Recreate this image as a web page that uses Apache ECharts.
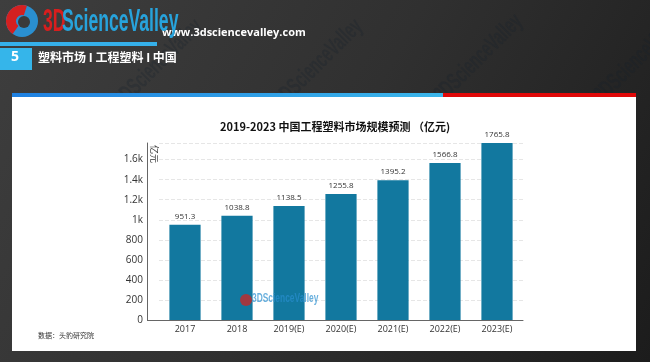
<!DOCTYPE html>
<html><head><meta charset="utf-8">
<script src="https://cdn.jsdelivr.net/npm/echarts@6/dist/echarts.min.js"></script>
<style>html,body{margin:0;padding:0;background:#2e2e2e;}#c{width:650px;height:362px;}</style>
</head><body><div id="c"></div>
<script>
var categories = ['2017','2018','2019(E)','2020(E)','2021(E)','2022(E)','2023(E)'];
var values = [951.3, 1038.8, 1138.5, 1255.8, 1395.2, 1566.8, 1765.8];
var yTicks = [0,200,400,600,800,1000,1200,1400,1600];
var titleText = '2019-2023 中国工程塑料市场规模预测 （亿元)';
var unitName = '亿元';
var sourceText = '数据：头豹研究院';
var sectionText = '塑料市场 I 工程塑料 I 中国';
var siteText = 'www.3dsciencevalley.com';

var chart = echarts.init(document.getElementById('c'));
var wm = [];
[[110,95],[270,95],[430,90],[590,90]].forEach(function(p){
  wm.push({type:'text', x:p[0], y:p[1], rotation:Math.PI/4, scaleX:0.6, z:-20,
    style:{text:'3DScienceValley', fill:'rgba(20,30,45,0.25)', font:'bold 24px sans-serif'}});
});
chart.setOption({
  backgroundColor: {type:'linear', x:0, y:0, x2:1, y2:1, colorStops:[{offset:0,color:'#3e3e3e'},{offset:0.5,color:'#303030'},{offset:1,color:'#1c1c1c'}]},
  title: {text: titleText, left: 330, top: 116, textAlign:'center',
    textStyle:{fontSize:11, fontWeight:'bold', color:'#111', fontFamily:'"Noto Sans CJK SC", sans-serif'}},
  grid: {left:159, right:127, top:143, bottom:42},
  xAxis: {type:'category', data:categories,
    axisLine:{lineStyle:{color:'#666'}}, axisTick:{alignWithLabel:true, lineStyle:{color:'#666'}},
    axisLabel:{color:'#333', fontSize:9, fontFamily:'"Open Sans", sans-serif', margin:5}},
  yAxis: {type:'value', min:0, max:function(v){return v.max;}, interval:200, offset:12,
    axisLine:{show:true, lineStyle:{color:'#666'}}, axisTick:{show:false},
    axisLabel:{color:'#333', fontSize:10, fontFamily:'"Open Sans", sans-serif', margin:4,
      formatter:function(v){ return yTicks.indexOf(v)<0 ? '' : (v>=1000 ? (v/1000)+'k' : v); }},
    splitLine:{lineStyle:{color:'#e6e6e6', type:'dashed'}}},
  series: [{type:'bar', data:values, barWidth:'60%', itemStyle:{color:'#12789f'},
    label:{show:true, position:'top', fontSize:8, color:'#333', distance:4, fontFamily:'"Open Sans", sans-serif'}, z:3}],
  graphic: wm.concat([
    {type:'rect', shape:{x:12,y:96,width:624,height:255}, style:{fill:'#ffffff'}, z:-10},
    {type:'rect', shape:{x:12,y:93,width:431,height:4}, style:{fill:{type:'linear',x:0,y:0,x2:1,y2:0,colorStops:[{offset:0,color:'#1f80e0'},{offset:1,color:'#3bb6ea'}]}}, z:-9},
    {type:'rect', shape:{x:443,y:93,width:193,height:4}, style:{fill:'#e00808'}, z:-9},
    {type:'line', shape:{x1:147,y1:320.5,x2:160,y2:320.5}, style:{stroke:'#666', lineWidth:1}, z:5},
    {type:'text', x:159, y:145, rotation:-Math.PI/2, style:{text:unitName, fill:'#333', font:'9px "Noto Sans CJK SC", sans-serif'}, z:5},
    {type:'rect', shape:{x:0,y:42,width:157,height:4}, style:{fill:'#35b0ea'}, z:1},
    {type:'rect', shape:{x:0,y:48,width:32,height:22}, style:{fill:'#35b5ea'}, z:1},
    {type:'text', x:11, y:50, style:{text:'5', fill:'#fff', font:'bold 14px "Open Sans", sans-serif'}, z:2},
    {type:'text', x:38, y:51, style:{text:sectionText, fill:'#fff', font:'bold 12px "Noto Sans CJK SC", sans-serif'}, z:2},
    {type:'text', x:162, y:27, style:{text:siteText, fill:'#fff', font:'bold 11px "Open Sans", sans-serif'}, z:2},
    {type:'circle', shape:{cx:22,cy:21,r:16}, style:{fill:'#2a8fd0'}, z:2},
    {type:'sector', shape:{cx:22,cy:21,r:16,r0:6,startAngle:Math.PI*0.7,endAngle:Math.PI*1.6}, style:{fill:'#d42020'}, z:3},
    {type:'circle', shape:{cx:24,cy:22,r:6}, style:{fill:'#3a3a3a'}, z:3},
    {type:'text', x:43, y:6, scaleX:0.55, style:{text:'3D', fill:'#d81e1e', font:'bold 32px "Liberation Sans", sans-serif'}, z:2},
    {type:'text', x:62, y:6, scaleX:0.55, style:{text:'ScienceValley', fill:'#27a3dc', font:'bold 32px "Liberation Sans", sans-serif'}, z:2},
    {type:'text', x:38, y:332, style:{text:sourceText, fill:'#333', font:'7px "Noto Sans CJK SC", sans-serif'}, z:2},
    {type:'circle', shape:{cx:246,cy:300,r:6}, style:{fill:'#c62828', opacity:0.8}, z:5},
    {type:'text', x:252, y:293, scaleX:0.7, style:{text:'3DScienceValley', fill:'#2a8fd0', font:'bold 12px "Liberation Sans", sans-serif', opacity:0.7}, z:5}
  ])
});
</script></body></html>
